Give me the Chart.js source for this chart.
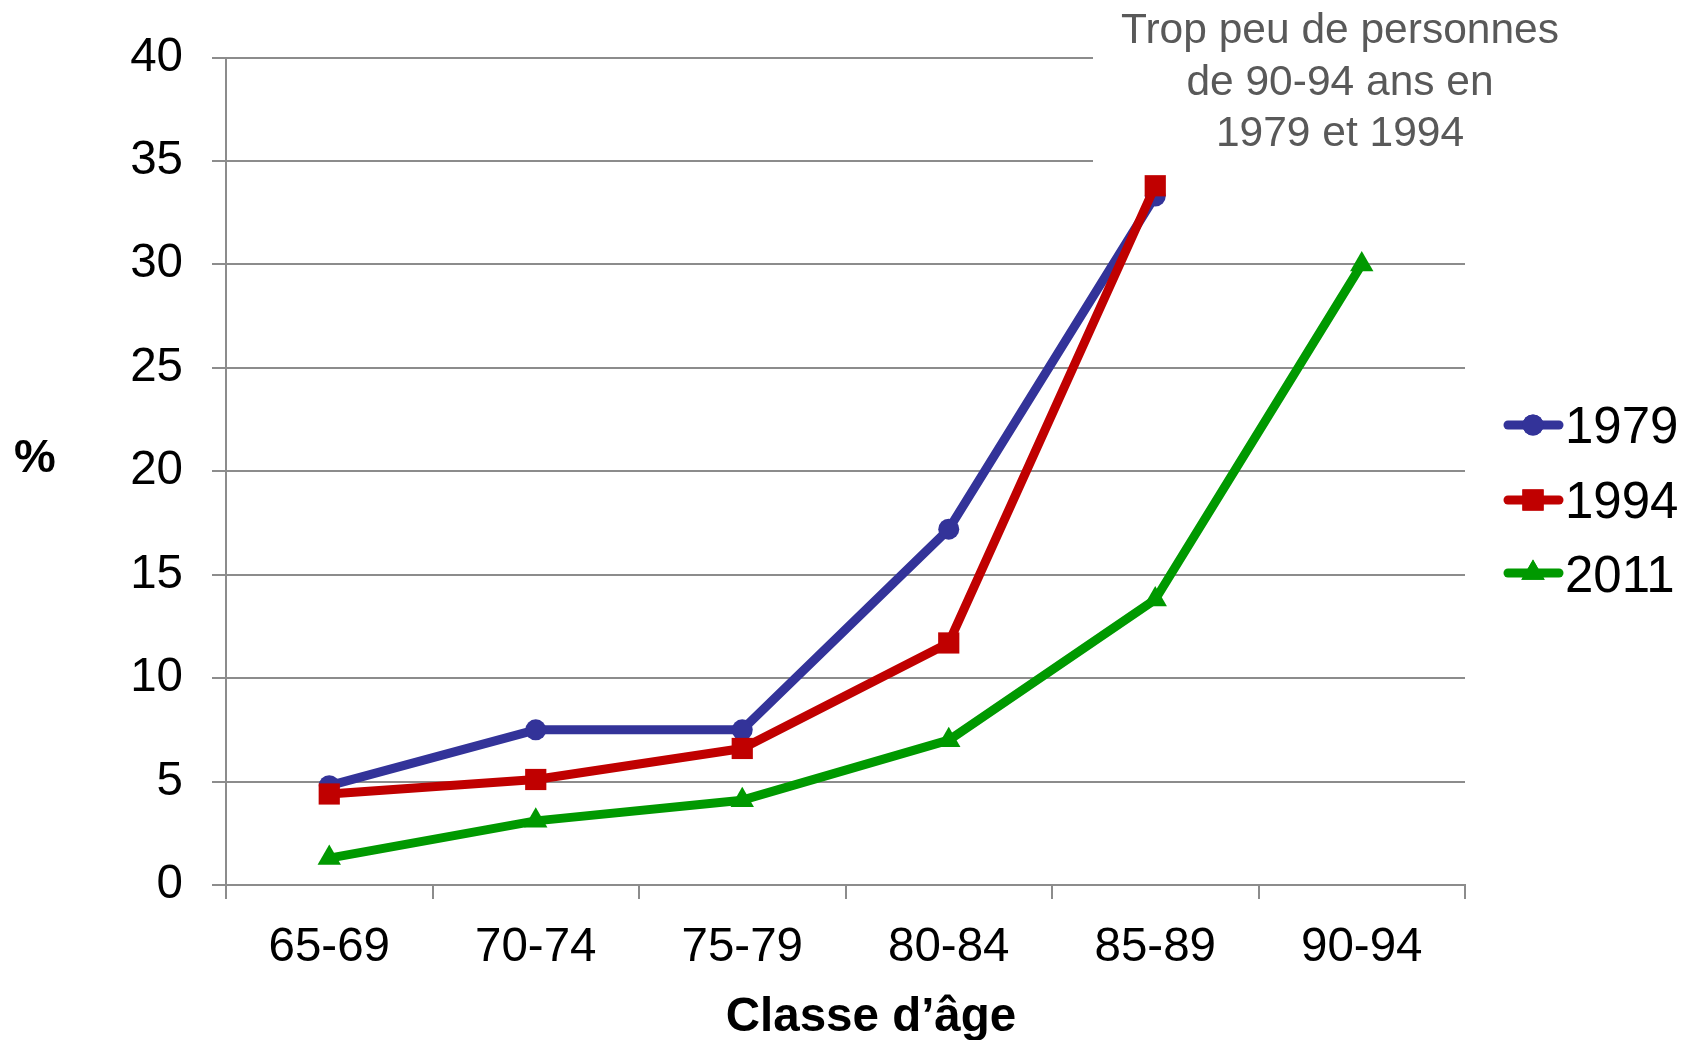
<!DOCTYPE html>
<html>
<head>
<meta charset="utf-8">
<script src="https://cdn.jsdelivr.net/npm/chart.js@4.4.1/dist/chart.umd.min.js"></script>
<style>
  html, body { margin: 0; padding: 0; background: #ffffff; }
  #wrap { width: 1687px; height: 1040px; position: relative; }
</style>
</head>
<body>
<div id="wrap"><canvas id="c" width="1687" height="1040"></canvas></div>
<script>
const categories = ['65-69', '70-74', '75-79', '80-84', '85-89', '90-94'];
const values1979 = [4.8, 7.5, 7.5, 17.2, 33.3, null];
const values1994 = [4.4, 5.1, 6.6, 11.7, 33.8, null];
const values2011 = [1.3, 3.1, 4.1, 7.0, 13.8, 30.0];
const seriesNames = ['1979', '1994', '2011'];
const yTicks = [0, 5, 10, 15, 20, 25, 30, 35, 40];
const xTitle = 'Classe d\u2019\u00e2ge';
const yTitle = '%';
const noteLines = ['Trop peu de personnes', 'de 90-94 ans en', '1979 et 1994'];

const FONT = '"Liberation Sans", Arial, Helvetica, sans-serif';
const GRID = '#8c8c8c';
const colors = ['#333399', '#c00000', '#009900'];
const styles = ['circle', 'rect', 'triangle'];
const radii = [10.5, 15, 13.5];

const decor = {
  id: 'decor',
  beforeDatasetsDraw(chart) {
    const ctx = chart.ctx;
    ctx.save();
    ctx.fillStyle = '#ffffff';
    ctx.fillRect(1093, 0, 594, 215);
    ctx.restore();
  },
  afterDraw(chart) {
    const ctx = chart.ctx;
    ctx.save();
    // annotation
    ctx.fillStyle = '#595959';
    ctx.font = '42.5px ' + FONT;
    ctx.textAlign = 'center';
    ctx.textBaseline = 'alphabetic';
    const bases = [43, 95, 146];
    noteLines.forEach((t, i) => ctx.fillText(t, 1340, bases[i]));
    // y title
    ctx.fillStyle = '#000000';
    ctx.font = 'bold 47px ' + FONT;
    ctx.fillText(yTitle, 35, 471.5);
    // x title
    ctx.font = 'bold 47.5px ' + FONT;
    ctx.fillText(xTitle, 871, 1031);
    // legend
    const rows = [425, 500, 573];
    const bases2 = [443, 518, 592];
    seriesNames.forEach((name, i) => {
      const y = rows[i];
      ctx.strokeStyle = colors[i];
      ctx.lineWidth = 9;
      ctx.lineCap = 'round';
      ctx.beginPath();
      ctx.moveTo(1508, y);
      ctx.lineTo(1559, y);
      ctx.stroke();
      ctx.fillStyle = colors[i];
      ctx.beginPath();
      Chart.helpers.drawPoint(ctx, {
        pointStyle: styles[i], radius: radii[i], rotation: 0, borderWidth: 0
      }, 1533, y);
      ctx.fill();
      ctx.fillStyle = '#000000';
      ctx.font = '51px ' + FONT;
      ctx.textAlign = 'left';
      ctx.fillText(name, 1565, bases2[i]);
    });
    ctx.restore();
  }
};

function ds(label, data, i, order) {
  return {
    label: label,
    data: data,
    borderColor: colors[i],
    backgroundColor: colors[i],
    borderWidth: 9,
    borderJoinStyle: 'round',
    borderCapStyle: 'round',
    tension: 0,
    pointStyle: styles[i],
    pointRadius: radii[i],
    pointHoverRadius: radii[i],
    pointBackgroundColor: colors[i],
    pointBorderColor: colors[i],
    pointBorderWidth: 0,
    fill: false,
    spanGaps: false,
    order: order,
    clip: false
  };
}

new Chart(document.getElementById('c'), {
  type: 'line',
  data: {
    labels: categories,
    datasets: [
      ds(seriesNames[0], values1979, 0, 3),
      ds(seriesNames[1], values1994, 1, 2),
      ds(seriesNames[2], values2011, 2, 1)
    ]
  },
  options: {
    responsive: false,
    animation: false,
    devicePixelRatio: 1,
    layout: { padding: { top: 55, right: 222, bottom: 0, left: 0 } },
    plugins: {
      legend: { display: false },
      tooltip: { enabled: false },
      title: { display: false }
    },
    scales: {
      x: {
        type: 'category',
        offset: true,
        grid: {
          offset: true,
          drawOnChartArea: false,
          drawTicks: true,
          tickLength: 14,
          color: GRID,
          lineWidth: 2
        },
        border: { display: true, color: GRID, width: 2 },
        ticks: {
          color: '#000000',
          font: { family: FONT, size: 47.5 },
          padding: 20,
          maxRotation: 0,
          autoSkip: false
        },
        afterFit(scale) { scale.height = 155; }
      },
      y: {
        min: 0,
        max: 40,
        afterBuildTicks(scale) { scale.ticks = yTicks.map(v => ({ value: v })); },
        grid: {
          drawTicks: true,
          tickLength: 14,
          color: GRID,
          lineWidth: 2
        },
        border: { display: true, color: GRID, width: 2 },
        ticks: {
          color: '#000000',
          font: { family: FONT, size: 47.5 },
          padding: 29
        },
        afterFit(scale) { scale.width = 226; }
      }
    }
  },
  plugins: [decor]
});
</script>
</body>
</html>
